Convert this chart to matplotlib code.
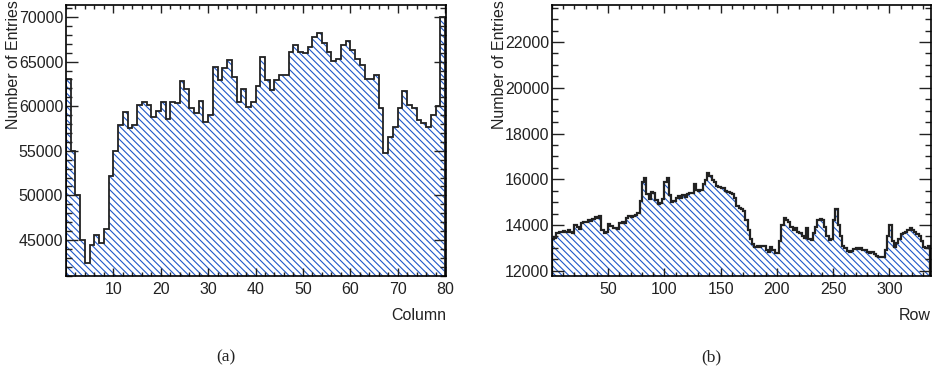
import matplotlib.pyplot as plt
import numpy as np
from matplotlib.ticker import MultipleLocator

plt.rcParams.update({
    "font.family": ["Liberation Sans", "DejaVu Sans"],
    "font.size": 11.5,
    "hatch.linewidth": 0.8,
    "axes.linewidth": 1.2,
    "text.color": "#222222",
    "xtick.color": "#222222",
    "ytick.color": "#222222",
})

# per-column entries (80 columns)
col_counts = [
    63000, 55000, 50050, 45000, 42400, 44450, 45550, 44700, 46200, 52200,
    55000, 57850, 59300, 57600, 57850, 60150, 60450, 60150, 58800, 59500,
    60450, 58550, 60450, 60400, 62800, 61900, 59850, 59200, 60600, 58250,
    59000, 64450, 62950, 64250, 65200, 63250, 60450, 61950, 59950, 60500,
    62250, 65550, 62950, 61800, 62950, 63500, 63500, 66100, 66850, 66100,
    65950, 66650, 67800, 68250, 67050, 66100, 65050, 65350, 66850, 67350,
    66300, 65350, 64600, 63000, 63000, 63500, 59750, 54700, 56600, 57700,
    59850, 61650, 60150, 59750, 58450, 58100, 57700, 59000, 60000, 70050,
]

# per-row entries, read in pairs of rows (336 rows)
row_counts = [
    13380, 13450, 13650, 13700, 13680, 13730, 13700, 13760, 13680, 13660,
    13980, 13900, 13830, 14080, 14150, 14120, 14200, 14160, 14280, 14330,
    14300, 14380, 13800, 13650, 13700, 14050, 13950, 13850, 13880, 13820,
    14100, 14150, 14100, 14300, 14380, 14330, 14400, 14450, 14520, 15050,
    15900, 16050, 15350, 15150, 15450, 15400, 15100, 14900, 14950, 15150,
    15900, 16050, 15300, 15000, 15050, 15200, 15250, 15200, 15300, 15230,
    15350, 15400, 15380, 15800, 15550, 15500, 15550, 15800, 15950, 16280,
    16150, 15950, 15900, 15700, 15650, 15620, 15600, 15500, 15450, 15400,
    15350, 15200, 14850, 14750, 14700, 14600, 14200, 13800, 13400, 13150,
    13050, 13080, 13020, 13060, 13100, 12900, 12820, 13050, 12900, 12760,
    12780, 13300, 14000, 14300, 14200, 14150, 13900, 13800, 13850, 13700,
    13650, 13500, 13450, 13850, 13400, 13330, 13650, 13900, 14200, 14250,
    14200, 13900, 13500, 13350, 13400, 14200, 14700, 14000, 13500, 13100,
    13000, 12850, 12800, 12880, 12950, 13000, 12950, 13000, 12920, 12900,
    12800, 12780, 12800, 12750, 12650, 12600, 12620, 12580, 12900, 13500,
    14000, 13300, 13050, 13200, 13400, 13600, 13650, 13700, 13800, 13850,
    13780, 13700, 13600, 13500, 13300, 13050, 13000, 13100,
]

HATCH_COLOR = "#1f58c8"
LINE_COLOR = "#222222"


def draw_hist(ax, edges, counts, ymin, lw):
    counts = np.asarray(counts, dtype=float)
    ax.fill_between(edges, np.append(counts, counts[-1]), ymin, step="post",
                    facecolor="none", edgecolor=HATCH_COLOR, hatch="\\" * 5,
                    linewidth=0)
    ax.stairs(counts, edges, color=LINE_COLOR, linewidth=lw)


def style_axes(ax, xmaj, xmin, ymaj, ymin_loc):
    ax.xaxis.set_major_locator(MultipleLocator(xmaj))
    ax.xaxis.set_minor_locator(MultipleLocator(xmin))
    ax.yaxis.set_major_locator(MultipleLocator(ymaj))
    ax.yaxis.set_minor_locator(MultipleLocator(ymin_loc))
    ax.tick_params(axis="both", which="both", direction="in", top=True, right=True)
    ax.tick_params(axis="x", which="major", length=6, width=1)
    ax.tick_params(axis="x", which="minor", length=3, width=1)
    ax.tick_params(axis="y", which="major", length=8.5, width=1)
    ax.tick_params(axis="y", which="minor", length=4.3, width=1)
    ax.tick_params(axis="x", pad=4)
    ax.tick_params(axis="y", pad=2)


fig = plt.figure(figsize=(9.35, 3.71), dpi=100)

# (a) columns
ax1 = fig.add_axes([66 / 935, 95 / 371, 380 / 935, 271 / 371])
col_edges = np.arange(len(col_counts) + 1)
ylo1, yhi1 = 40960, 71350
draw_hist(ax1, col_edges, col_counts, ylo1, 1.3)
ax1.set_xlim(0, 80.2)
ax1.set_ylim(ylo1, yhi1)
style_axes(ax1, 10, 2, 5000, 1000)
ax1.set_xticks(np.arange(10, 81, 10))
ax1.text(1.0, -39 / 271, "Column", transform=ax1.transAxes, ha="right", va="center")
ax1.text(-52 / 380, 1.018, "Number of Entries", transform=ax1.transAxes,
         rotation=90, ha="center", va="top")

# (b) rows
ax2 = fig.add_axes([552 / 935, 95 / 371, 379 / 935, 271 / 371])
row_edges = np.arange(len(row_counts) + 1) * 2
ylo2, yhi2 = 11770, 23620
draw_hist(ax2, row_edges, row_counts, ylo2, 1.6)
ax2.set_xlim(0, 337)
ax2.set_ylim(ylo2, yhi2)
style_axes(ax2, 50, 10, 2000, 500)
ax2.set_xticks(np.arange(50, 301, 50))
ax2.text(1.0, -39 / 271, "Row", transform=ax2.transAxes, ha="right", va="center")
ax2.text(-52 / 379, 1.018, "Number of Entries", transform=ax2.transAxes,
         rotation=90, ha="center", va="top")

for x, lab in [(226, "(a)"), (711, "(b)")]:
    fig.text(x / 935, 1 - 357 / 371, lab, ha="center", va="center",
             family="Liberation Serif", fontsize=12.5)

fig.savefig("out.png", dpi=100)
